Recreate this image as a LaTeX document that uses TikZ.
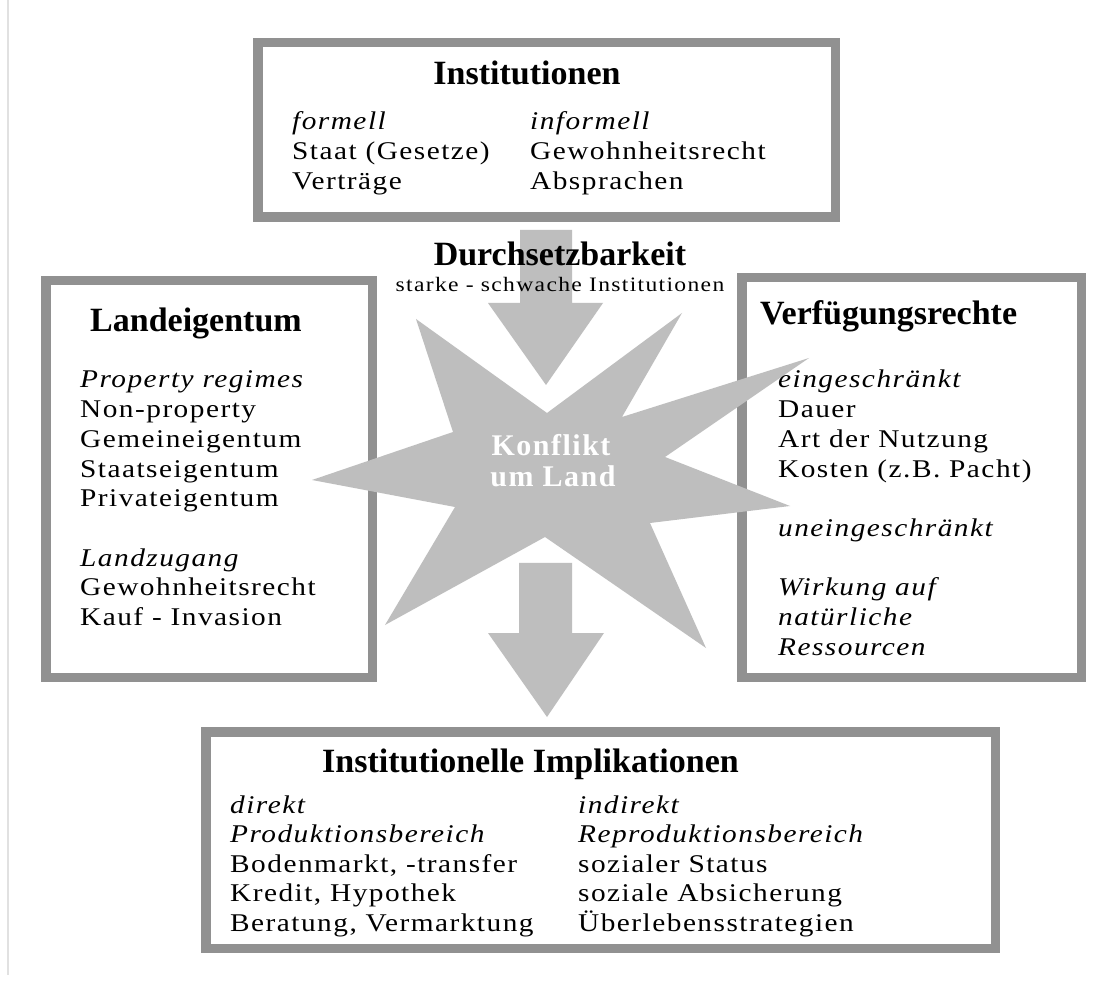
\documentclass[tikz,border=0pt]{standalone}
\usepackage{fontspec}
\setmainfont{Liberation Serif}
\newfontfamily\bodyfont{Liberation Serif}[FakeStretch=1.15, LetterSpace=5.8]
\newfontfamily\smallfont{Liberation Serif}[FakeStretch=1.15, LetterSpace=6.5]
\newfontfamily\konfont{Liberation Serif}[LetterSpace=5]
\definecolor{boxgray}{RGB}{145,145,145}
\definecolor{stargray}{RGB}{190,190,190}
\definecolor{edgegray}{RGB}{225,225,225}
\begin{document}
\begin{tikzpicture}[x=1pt,y=-1pt,
  frame/.style={draw=boxgray, line width=9.5pt, fill=white, inner sep=0pt},
  body/.style={anchor=base west, inner sep=0pt, font=\bodyfont\fontsize{25.5}{30}\selectfont},
  ibody/.style={anchor=base west, inner sep=0pt, font=\bodyfont\itshape\fontsize{25.5}{30}\selectfont},
  title/.style={anchor=base, inner sep=0pt, font=\bfseries\fontsize{34}{37}\selectfont},
  ltitle/.style={title, anchor=base west},
  small/.style={anchor=base, inner sep=0pt, font=\smallfont\fontsize{20.5}{24}\selectfont},
  kon/.style={anchor=base, inner sep=0pt, text=white, font=\konfont\bfseries\fontsize{30}{31}\selectfont}
]
\useasboundingbox (0,0) rectangle (1112,981);
\fill[white] (0,0) rectangle (1112,981);
\draw[edgegray, line width=1.5pt] (8,0) -- (8,975);

% boxes
\node[frame, minimum width=577.5pt, minimum height=174.5pt] (topbox) at (546.5,130) {};
\node[frame, minimum width=326.5pt, minimum height=396.5pt] (leftbox) at (209,479) {};
\node[frame, minimum width=339.5pt, minimum height=399.5pt] (rightbox) at (911.5,477.5) {};
\node[frame, minimum width=789.5pt, minimum height=216.5pt] (botbox) at (600.5,840) {};

% arrows
\fill[stargray] (520,230) -- (572,230) -- (572,303) -- (603,303) -- (546,385)
  -- (488,303) -- (520,303) -- cycle;
\fill[stargray] (519,563) -- (572,563) -- (572,633) -- (604,633) -- (547,717)
  -- (488,633) -- (519,633) -- cycle;

% star
\fill[stargray] (416,319) -- (547,413) -- (682,313) -- (622,417) -- (809,358)
  -- (665,457) -- (790,506) -- (650,523) -- (706,648) -- (545,537)
  -- (385,625) -- (455,507) -- (312,480) -- (453,432) -- cycle;
\node[kon] (kon1) at (551,456) {Konflikt};
\node[kon] (kon2) at (553,487) {um Land};

% top box text
\node[title] (tinst) at (527,85) {Institutionen};
\node[ibody] (tf) at (292,130) {formell};
\node[body] (tf1) at (292,160) {Staat (Gesetze)};
\node[body] (tf2) at (292,190) {Verträge};
\node[ibody] (ti) at (530,130) {informell};
\node[body] (ti1) at (530,160) {Gewohnheitsrecht};
\node[body] (ti2) at (530,190) {Absprachen};

% enforceability
\node[title] (dsb) at (560,266) {Durchsetzbarkeit};
\node[small] (dsb2) at (560,292) {starke - schwache Institutionen};

% left box text
\node[ltitle] (lt) at (90,332) {Landeigentum};
\node[ibody] (l1) at (80,388) {Property regimes};
\node[body] (l2) at (80,417.7) {Non-property};
\node[body] (l3) at (80,447.4) {Gemeineigentum};
\node[body] (l4) at (80,477.1) {Staatseigentum};
\node[body] (l5) at (80,506.8) {Privateigentum};
\node[ibody] (l6) at (80,566.2) {Landzugang};
\node[body] (l7) at (80,595.9) {Gewohnheitsrecht};
\node[body] (l8) at (80,625.6) {Kauf - Invasion};

% right box text
\node[ltitle] (rt) at (760,325) {Verfügungsrechte};
\node[ibody] (r1) at (778,388) {eingeschränkt};
\node[body] (r2) at (778,417.7) {Dauer};
\node[body] (r3) at (778,447.4) {Art der Nutzung};
\node[body] (r4) at (778,477.1) {Kosten (z.B. Pacht)};
\node[ibody] (r5) at (778,536.5) {uneingeschränkt};
\node[ibody] (r6) at (778,595.9) {Wirkung auf};
\node[ibody] (r7) at (778,625.6) {natürliche};
\node[ibody] (r8) at (778,655.3) {Ressourcen};

% bottom box text
\node[ltitle] (bt) at (322,772) {Institutionelle Implikationen};
\node[ibody] (b1) at (230,813) {direkt};
\node[ibody] (b2) at (230,842.5) {Produktionsbereich};
\node[body] (b3) at (230,872) {Bodenmarkt, -transfer};
\node[body] (b4) at (230,901.5) {Kredit, Hypothek};
\node[body] (b5) at (230,931) {Beratung, Vermarktung};
\node[ibody] (c1) at (578,813) {indirekt};
\node[ibody] (c2) at (578,842.5) {Reproduktionsbereich};
\node[body] (c3) at (578,872) {sozialer Status};
\node[body] (c4) at (578,901.5) {soziale Absicherung};
\node[body] (c5) at (578,931) {Überlebensstrategien};
\end{tikzpicture}
\end{document}
